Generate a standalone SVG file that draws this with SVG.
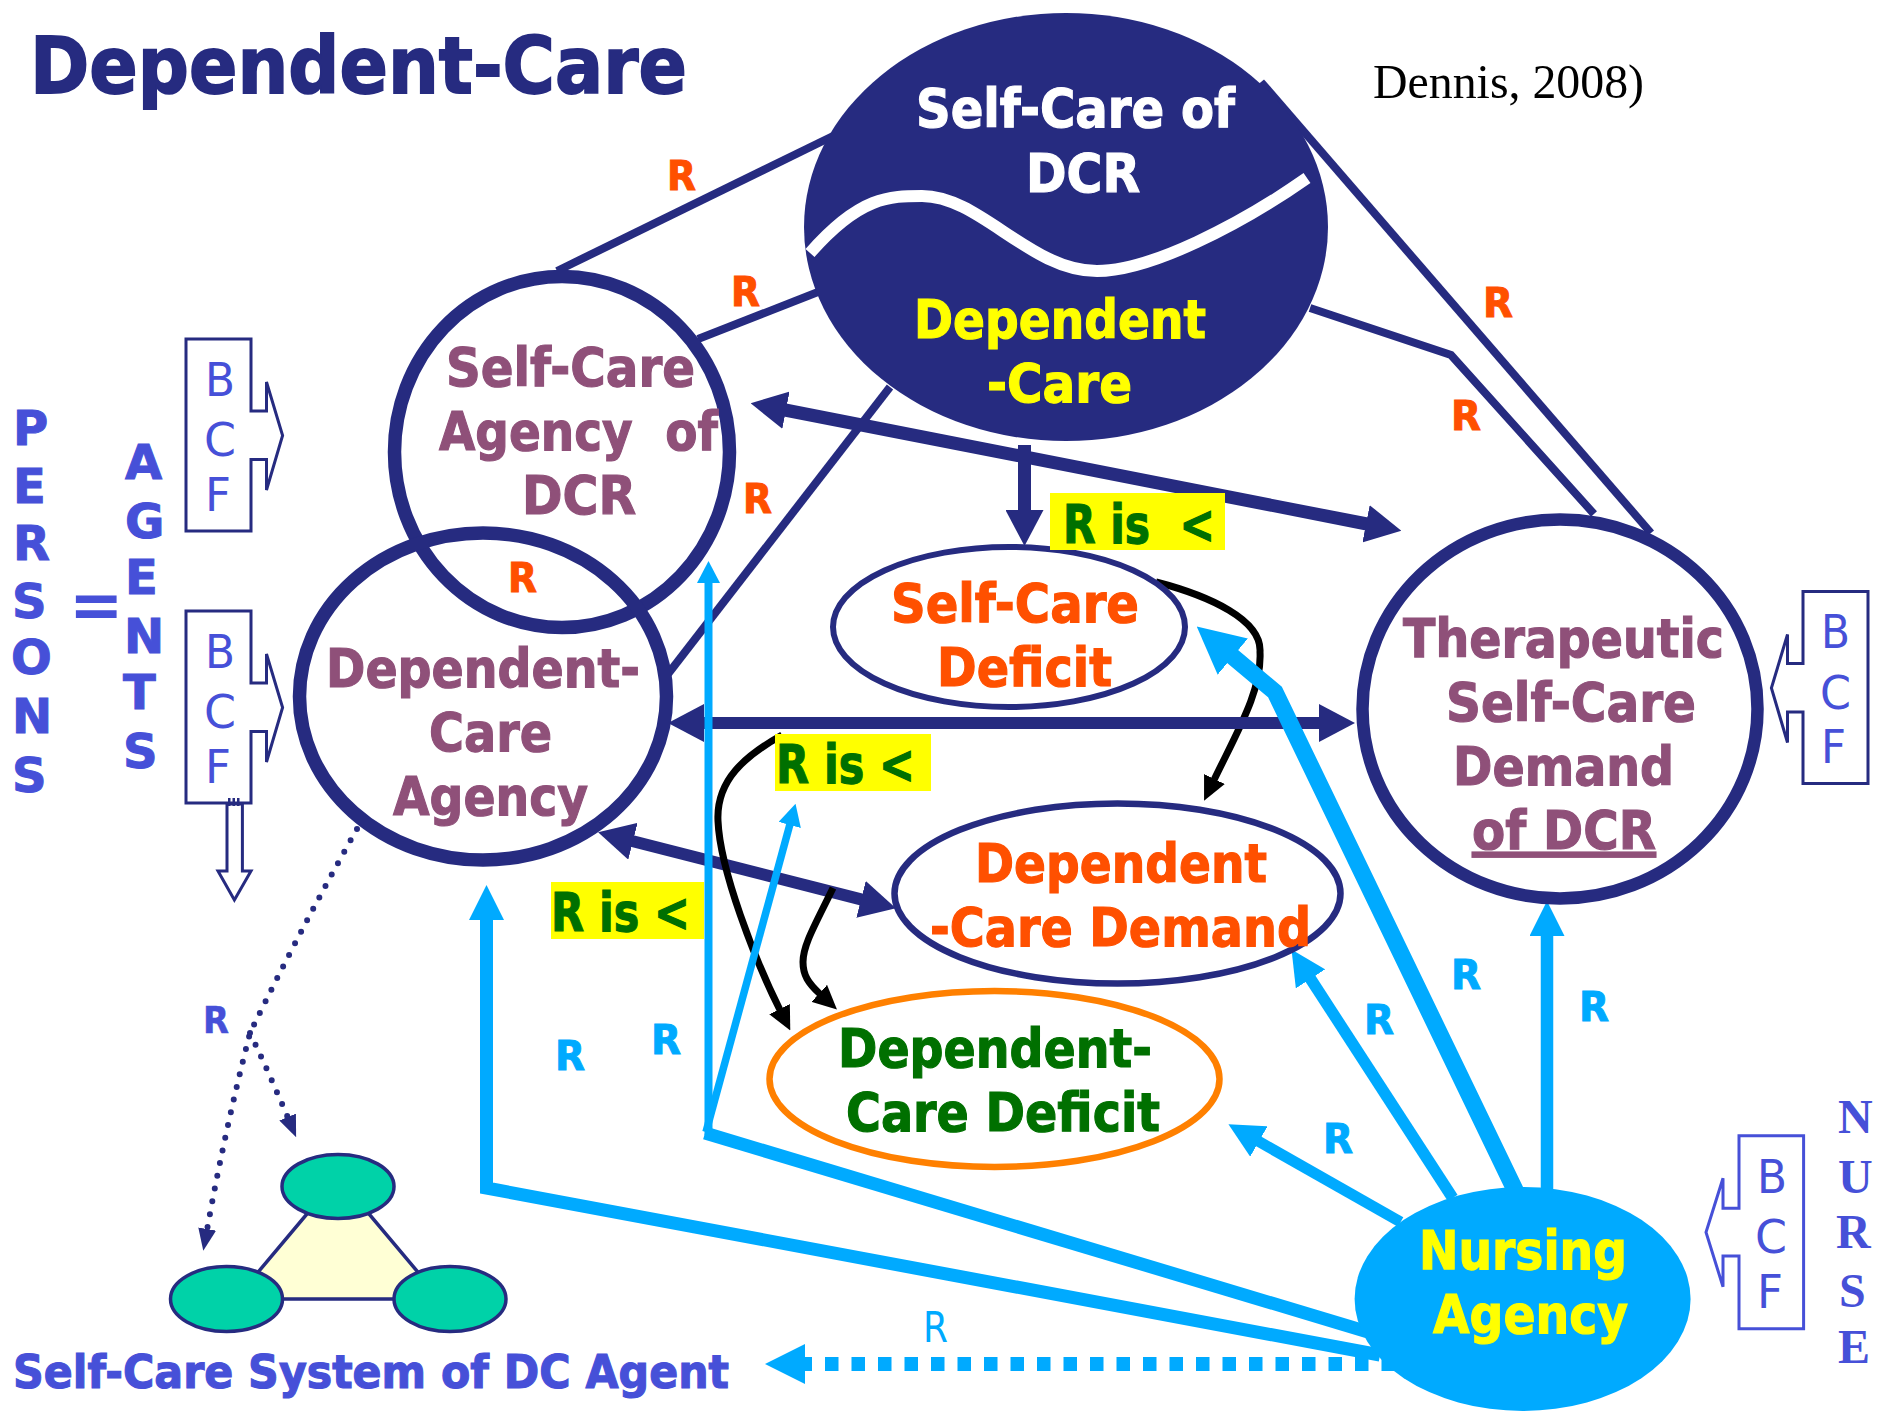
<svg xmlns="http://www.w3.org/2000/svg" width="1887" height="1414" viewBox="0 0 1887 1414">
<style>
text{font-family:"DejaVu Sans","Liberation Sans",sans-serif;white-space:pre}
.h{font-weight:bold;font-size:53px;stroke-width:1.2px}
.purple{fill:#8f5079;stroke:#8f5079}.red{fill:#ff5000;stroke:#ff5000}.green{fill:#007000;stroke:#007000}.yellow{fill:#ffff00;stroke:#ffff00}.white{fill:#fff;stroke:#fff}
.peri{fill:#4650d8;stroke:#4650d8}.sky{fill:#00aaff;stroke:#00aaff}
.r{font-weight:bold;font-size:41px;stroke-width:1px}
.v{font-weight:bold;font-size:48px;fill:#4650d8;stroke:#4650d8;stroke-width:1px}
.n{font-family:"Liberation Serif",serif;font-weight:bold;font-size:48px;fill:#4650d8}
.bcf{font-size:47px;fill:#4650d8}
.ring{fill:none;stroke:#262b80}
.box{fill:#fff;stroke:#262b80;stroke-width:3}
.l{fill:none;stroke:#262b80;stroke-width:8}
.lb{fill:none;stroke:#00aaff}
.bk{fill:none;stroke:#000;stroke-width:7}
.ye{fill:#ffff00}
.tri{fill:#00d2a8;stroke:#262b80;stroke-width:3.5}
</style>
<defs>
<marker id="n36" markerUnits="userSpaceOnUse" markerWidth="36" markerHeight="38" refX="1" refY="19" orient="auto-start-reverse"><path d="M0,0L36,19L0,38z" fill="#262b80"/></marker>
<marker id="nd" markerUnits="userSpaceOnUse" markerWidth="22" markerHeight="18" refX="1" refY="9" orient="auto"><path d="M0,0L22,9L0,18z" fill="#262b80"/></marker>
<marker id="b35" markerUnits="userSpaceOnUse" markerWidth="35" markerHeight="35" refX="1" refY="17.5" orient="auto"><path d="M0,0L35,17.5L0,35z" fill="#00aaff"/></marker>
<marker id="b47" markerUnits="userSpaceOnUse" markerWidth="47" markerHeight="47" refX="1" refY="23.5" orient="auto"><path d="M0,0L47,23.5L0,47z" fill="#00aaff"/></marker>
<marker id="b23" markerUnits="userSpaceOnUse" markerWidth="22" markerHeight="23" refX="1" refY="11.5" orient="auto"><path d="M0,0L22,11.5L0,23z" fill="#00aaff"/></marker>
<marker id="b40" markerUnits="userSpaceOnUse" markerWidth="40" markerHeight="40" refX="1" refY="20" orient="auto"><path d="M0,0L40,20L0,40z" fill="#00aaff"/></marker>
<marker id="k" markerUnits="userSpaceOnUse" markerWidth="24" markerHeight="23" refX="1" refY="11.5" orient="auto"><path d="M0,0L24,11.5L0,23z" fill="#000"/></marker>
</defs>
<rect width="1887" height="1414" fill="#fff"/>
<text id="title" x="30" y="93" font-size="79" font-weight="bold" fill="#262b80" stroke="#262b80" stroke-width="1.8" textLength="657" lengthAdjust="spacingAndGlyphs">Dependent-Care</text>
<text id="citation" x="1373" y="98" style="font-family:'Liberation Serif',serif;font-size:49px" fill="#000" textLength="271" lengthAdjust="spacingAndGlyphs">Dennis, 2008)</text>

<g id="connectors">
<path class="l" d="M557,271L833,136"/>
<path class="l" d="M698,339L818,292"/>
<path class="l" d="M668,674L890,387"/>
<path class="l" d="M1261,82L1651,533"/>
<path class="l" d="M1310,308L1451,355L1594,514"/>
<path class="bk" d="M1156,582C1210,596 1262,620 1260,652C1262,690 1238,730 1214,780" marker-end="url(#k)"/>
<path fill="none" stroke="#262b80" stroke-width="13" d="M785,410L1367,524" marker-start="url(#n36)" marker-end="url(#n36)"/>
<path fill="none" stroke="#262b80" stroke-width="12" d="M703,723L1320,723" marker-start="url(#n36)" marker-end="url(#n36)"/>
<path fill="none" stroke="#262b80" stroke-width="12" d="M632,841L862,899.6" marker-start="url(#n36)" marker-end="url(#n36)"/>
<path fill="none" stroke="#262b80" stroke-width="13" d="M1024.5,445L1024.5,511" marker-end="url(#n36)"/>
<path class="bk" d="M782,735C745,756 716,780 718,821C720,870 755,960 780,1010" marker-end="url(#k)"/>
<path class="bk" d="M833,888C815,925 803,945 803,962C803,975 808,983 820,994" marker-end="url(#k)"/>
<path class="lb" stroke-width="13" d="M1380,1355L486.5,1188L486.5,919" marker-end="url(#b35)"/>
<path class="lb" stroke-width="8" d="M708.5,1135L708.5,582" marker-end="url(#b23)"/>
<path class="lb" stroke-width="7.5" d="M706,1132L790,824" marker-end="url(#b23)"/>
<path class="lb" stroke-width="13" d="M705,1133L1368,1332"/>
<path class="lb" stroke-width="11" d="M1400.6,1222L1258,1141" marker-end="url(#b35)"/>
<path class="lb" stroke-width="11.5" d="M1452.7,1198L1310,978" marker-end="url(#b35)"/>
<path class="lb" stroke-width="17" d="M1516,1192L1275,692L1232,656" marker-end="url(#b47)"/>
<path class="lb" stroke-width="12.5" d="M1547,1190L1547,935" marker-end="url(#b35)"/>
<path class="lb" stroke-width="14" stroke-dasharray="13.5 13" d="M1395,1364L804,1364" marker-end="url(#b40)"/>
<path fill="none" stroke="#262b80" stroke-width="6" stroke-linecap="round" stroke-dasharray="0 13" d="M357,829Q300,930 250,1033Q225,1130 207,1230" marker-end="url(#nd)"/>
<path fill="none" stroke="#262b80" stroke-width="6" stroke-linecap="round" stroke-dasharray="0 13" d="M250,1033Q270,1075 288,1118" marker-end="url(#nd)"/>
</g>

<g id="central">
<ellipse cx="1066" cy="227" rx="262" ry="214" fill="#262b80"/>
<path d="M810,253C860,196 890,196 922,196C980,196 1030,271 1097,271C1150,271 1240,225 1307,178" fill="none" stroke="#fff" stroke-width="12"/>
<text class="h white" x="916" y="127" textLength="319" lengthAdjust="spacingAndGlyphs">Self-Care of</text>
<text class="h white" x="1026" y="192" textLength="114" lengthAdjust="spacingAndGlyphs">DCR</text>
<text class="h yellow" x="914" y="338" textLength="292" lengthAdjust="spacingAndGlyphs">Dependent</text>
<text class="h yellow" x="987" y="402" textLength="145" lengthAdjust="spacingAndGlyphs">-Care</text>
</g>

<g id="selfcare-agency">
<ellipse class="ring" cx="562" cy="452" rx="167.5" ry="175.5" stroke-width="13.5"/>
<text class="h purple" x="446" y="386" textLength="249" lengthAdjust="spacingAndGlyphs">Self-Care</text>
<text class="h purple" x="439" y="450" textLength="279" lengthAdjust="spacingAndGlyphs">Agency  of</text>
<text class="h purple" x="522" y="514" textLength="114" lengthAdjust="spacingAndGlyphs">DCR</text>
</g>
<g id="dependent-care-agency">
<ellipse class="ring" cx="483" cy="696.5" rx="183.5" ry="163.5" stroke-width="13.5"/>
<text class="h purple" x="326" y="687" textLength="314" lengthAdjust="spacingAndGlyphs">Dependent-</text>
<text class="h purple" x="429" y="751" textLength="123" lengthAdjust="spacingAndGlyphs">Care</text>
<text class="h purple" x="393" y="815" textLength="195" lengthAdjust="spacingAndGlyphs">Agency</text>
</g>
<g id="therapeutic">
<ellipse class="ring" cx="1560" cy="709" rx="197.5" ry="189.5" stroke-width="12.5"/>
<text class="h purple" x="1403" y="657" textLength="321" lengthAdjust="spacingAndGlyphs">Therapeutic</text>
<text class="h purple" x="1446" y="721" textLength="250" lengthAdjust="spacingAndGlyphs">Self-Care</text>
<text class="h purple" x="1453" y="785" textLength="221" lengthAdjust="spacingAndGlyphs">Demand</text>
<text class="h purple" x="1472" y="849" textLength="184" lengthAdjust="spacingAndGlyphs" text-decoration="underline">of DCR</text>
</g>
<g id="self-care-deficit">
<ellipse class="ring" cx="1009" cy="627" rx="176" ry="80" stroke-width="6"/>
<text class="h red" x="891" y="622" textLength="248" lengthAdjust="spacingAndGlyphs">Self-Care</text>
<text class="h red" x="937" y="686" textLength="175" lengthAdjust="spacingAndGlyphs">Deficit</text>
</g>
<g id="dependent-care-demand">
<ellipse class="ring" cx="1117.5" cy="893.5" rx="223" ry="90" stroke-width="6.5"/>
<text class="h red" x="975" y="882" textLength="292" lengthAdjust="spacingAndGlyphs">Dependent</text>
<text class="h red" x="930" y="946" textLength="381" lengthAdjust="spacingAndGlyphs">-Care Demand</text>
</g>
<g id="dependent-care-deficit">
<ellipse cx="994.5" cy="1079" rx="225" ry="88" fill="none" stroke="#ff8000" stroke-width="6.5"/>
<text class="h green" x="838" y="1067" textLength="314" lengthAdjust="spacingAndGlyphs">Dependent-</text>
<text class="h green" x="846" y="1131" textLength="314" lengthAdjust="spacingAndGlyphs">Care Deficit</text>
</g>
<g id="nursing-agency">
<ellipse cx="1522.6" cy="1299" rx="168" ry="112" fill="#00aaff"/>
<text class="h yellow" x="1419" y="1269" textLength="208" lengthAdjust="spacingAndGlyphs">Nursing</text>
<text class="h yellow" x="1433" y="1333" textLength="195" lengthAdjust="spacingAndGlyphs">Agency</text>
</g>

<g id="r-less-1"><rect class="ye" x="1050" y="493" width="175" height="57"/><text class="h green" x="1063" y="543" textLength="152" lengthAdjust="spacingAndGlyphs">R is  &lt;</text></g>
<g id="r-less-2"><rect class="ye" x="775" y="734" width="156" height="57"/><text class="h green" x="776" y="783" textLength="139" lengthAdjust="spacingAndGlyphs">R is &lt;</text></g>
<g id="r-less-3"><rect class="ye" x="551" y="882" width="153" height="57"/><text class="h green" x="551" y="931" textLength="139" lengthAdjust="spacingAndGlyphs">R is &lt;</text></g>

<g id="r-labels">
<g class="red">
<text class="r" x="667" y="190" textLength="29" lengthAdjust="spacingAndGlyphs">R</text>
<text class="r" x="731" y="306" textLength="29" lengthAdjust="spacingAndGlyphs">R</text>
<text class="r" x="743" y="513" textLength="29" lengthAdjust="spacingAndGlyphs">R</text>
<text class="r" x="508" y="592" textLength="29" lengthAdjust="spacingAndGlyphs">R</text>
<text class="r" x="1483" y="317" textLength="30" lengthAdjust="spacingAndGlyphs">R</text>
<text class="r" x="1451" y="430" textLength="30" lengthAdjust="spacingAndGlyphs">R</text>
</g>
<g class="sky">
<text class="r" x="1451" y="989" textLength="30" lengthAdjust="spacingAndGlyphs">R</text>
<text class="r" x="1364" y="1034" textLength="30" lengthAdjust="spacingAndGlyphs">R</text>
<text class="r" x="1323" y="1153" textLength="30" lengthAdjust="spacingAndGlyphs">R</text>
<text class="r" x="1579" y="1021" textLength="30" lengthAdjust="spacingAndGlyphs">R</text>
<text class="r" x="555" y="1070" textLength="30" lengthAdjust="spacingAndGlyphs">R</text>
<text class="r" x="651" y="1054" textLength="30" lengthAdjust="spacingAndGlyphs">R</text>
<text x="923" y="1342" font-size="42" textLength="25" lengthAdjust="spacingAndGlyphs" stroke="none">R</text>
</g>
<text class="peri" x="203" y="1033" font-size="37" font-weight="bold" textLength="26" lengthAdjust="spacingAndGlyphs" stroke-width="0.5">R</text>
</g>

<g id="persons">
<text class="v" x="13" y="445">P</text><text class="v" x="13" y="503">E</text><text class="v" x="13" y="560">R</text><text class="v" x="12" y="618">S</text><text class="v" x="11" y="674">O</text><text class="v" x="12" y="733">N</text><text class="v" x="12" y="792">S</text>
</g>
<text id="equals" x="69" y="628" font-size="65" font-weight="bold" fill="#4650d8">=</text>
<g id="agents">
<text class="v" x="125" y="479">A</text><text class="v" x="125" y="538">G</text><text class="v" x="125" y="594">E</text><text class="v" x="124" y="653">N</text><text class="v" x="123" y="709">T</text><text class="v" x="123" y="768">S</text>
</g>

<g id="bcf-1">
<path class="box" d="M186,339H251V411H266.5V382L282.6,435.5L266.5,490V459.6H251V531H186Z"/>
<text class="bcf" x="205" y="396" textLength="30" lengthAdjust="spacingAndGlyphs">B</text><text class="bcf" x="204" y="456" textLength="32" lengthAdjust="spacingAndGlyphs">C</text><text class="bcf" x="205" y="511" textLength="26" lengthAdjust="spacingAndGlyphs">F</text>
</g>
<g id="bcf-2" transform="translate(0,272)">
<path class="box" d="M186,339H251V411H266.5V382L282.6,435.5L266.5,490V459.6H251V531H186Z"/>
<text class="bcf" x="205" y="396" textLength="30" lengthAdjust="spacingAndGlyphs">B</text><text class="bcf" x="204" y="456" textLength="32" lengthAdjust="spacingAndGlyphs">C</text><text class="bcf" x="205" y="511" textLength="26" lengthAdjust="spacingAndGlyphs">F</text>
</g>
<g id="down-arrow">
<path class="box" d="M227,804V871H218L234.4,900L251,871H242.4V804Z"/>
<path d="M228,802H241" stroke="#262b80" stroke-width="8" stroke-dasharray="2.5 2" fill="none"/>
</g>
<g id="bcf-3">
<path class="box" d="M1868,591.5H1803V663.5H1787.5V634.5L1771.4,688L1787.5,742.5V712H1803V783.5H1868Z"/>
<text class="bcf" x="1821" y="648" textLength="29" lengthAdjust="spacingAndGlyphs">B</text><text class="bcf" x="1820" y="709" textLength="31" lengthAdjust="spacingAndGlyphs">C</text><text class="bcf" x="1821" y="763" textLength="25" lengthAdjust="spacingAndGlyphs">F</text>
</g>
<g id="bcf-nurse">
<path d="M1803.6,1135.7H1739V1208.3H1723V1178.3L1706,1232.3L1723,1286.7V1256H1739V1328.7H1803.6Z" fill="#fff" stroke="#4650d8" stroke-width="3"/>
<text class="bcf" x="1757" y="1193" textLength="30" lengthAdjust="spacingAndGlyphs">B</text><text class="bcf" x="1755" y="1253" textLength="32" lengthAdjust="spacingAndGlyphs">C</text><text class="bcf" x="1757" y="1308" textLength="26" lengthAdjust="spacingAndGlyphs">F</text>
</g>
<g id="nurse">
<text class="n" x="1838" y="1133">N</text><text class="n" x="1838" y="1193">U</text><text class="n" x="1836" y="1248">R</text><text class="n" x="1839" y="1307">S</text><text class="n" x="1838" y="1363">E</text>
</g>

<g id="self-care-system">
<polygon points="338,1177 235.5,1299 440.5,1299" fill="#ffffd5" stroke="#262b80" stroke-width="3.5"/>
<ellipse class="tri" cx="338" cy="1186.5" rx="56" ry="32"/>
<ellipse class="tri" cx="226.5" cy="1299" rx="56" ry="32.5"/>
<ellipse class="tri" cx="450" cy="1299" rx="56" ry="32.5"/>
<text class="peri" x="13" y="1388" font-size="47" font-weight="bold" stroke-width="1.2" textLength="716" lengthAdjust="spacingAndGlyphs">Self-Care System of DC Agent</text>
</g>
</svg>
